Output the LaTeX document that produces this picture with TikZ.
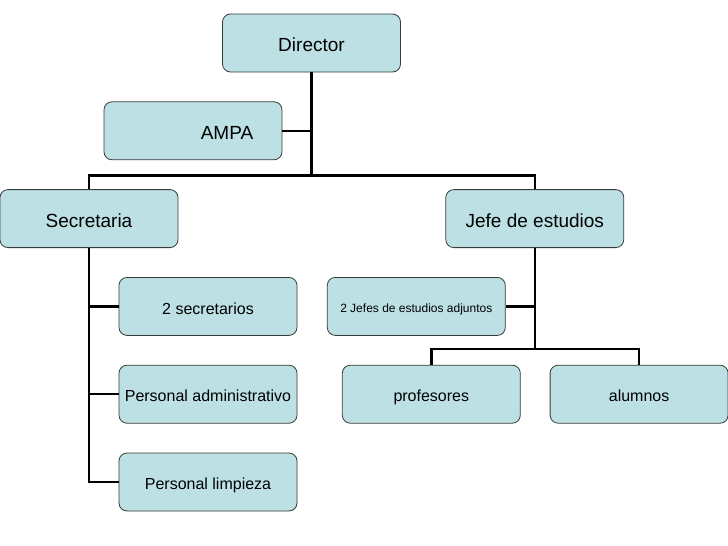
\documentclass[tikz,border=0pt]{standalone}
\usepackage{fontspec}
\setmainfont{Liberation Sans}
\usepackage{xcolor}
\usetikzlibrary{positioning}
\definecolor{boxblue}{HTML}{BDE0E4}
\definecolor{boxline}{HTML}{3A3A3A}

\begin{document}
\begin{tikzpicture}[x=1pt,y=1pt,node distance=29pt,
  box/.style={draw=boxline,line width=0.8pt,rounded corners=8pt,fill=boxblue,minimum width=178pt,minimum height=58pt,inner sep=1pt,text height=16pt,text depth=0.6pt,font=\fontsize{16}{19}\selectfont},
  bigbox/.style={box,text height=18pt,text depth=1pt,font=\fontsize{19}{22}\selectfont},
  smallbox/.style={box,text height=12pt,text depth=0.5pt,font=\fontsize{12}{14}\selectfont},
  link/.style={line width=2.4pt,color=black}]
\useasboundingbox (0,0) rectangle (728,-546);
\node[bigbox] (dir) at (311.5,-43) {Director};
\node[bigbox,below=of dir,xshift=-118.5pt] (ampa) {\hspace*{68pt}AMPA};
\node[bigbox,below=of ampa,xshift=-104pt] (sec) {Secretaria};
\node[bigbox,right=267pt of sec] (jefe) {Jefe de estudios};
\node[box,below=of sec,xshift=119pt] (secr) {2 secretarios};
\node[box,below=of secr] (admin) {Personal administrativo};
\node[box,below=of admin] (limp) {Personal limpieza};
\node[smallbox,below=of jefe,xshift=-118.5pt] (adj) {2 Jefes de estudios adjuntos};
\node[box,below=of adj,xshift=15pt] (prof) {profesores};
\node[box,right=of prof] (alum) {alumnos};
% top level
\draw[link] (dir.south) -- ++(0,-103) coordinate (hub);
\draw[link] (ampa.east) -- (ampa.east -| hub);
\draw[link] (sec.north) |- (hub) -| (jefe.north);
% secretaria
\draw[link] (sec.south) |- (secr.west);
\draw[link] (sec.south) |- (admin.west);
\draw[link] (sec.south) |- (limp.west);
% jefe de estudios
\draw[link] (jefe.south) |- (adj.east);
\draw[link] (jefe.south) -- ++(0,-101) coordinate (jhub);
\draw[link] (prof.north) |- (jhub) -| (alum.north);
\end{tikzpicture}
\end{document}
